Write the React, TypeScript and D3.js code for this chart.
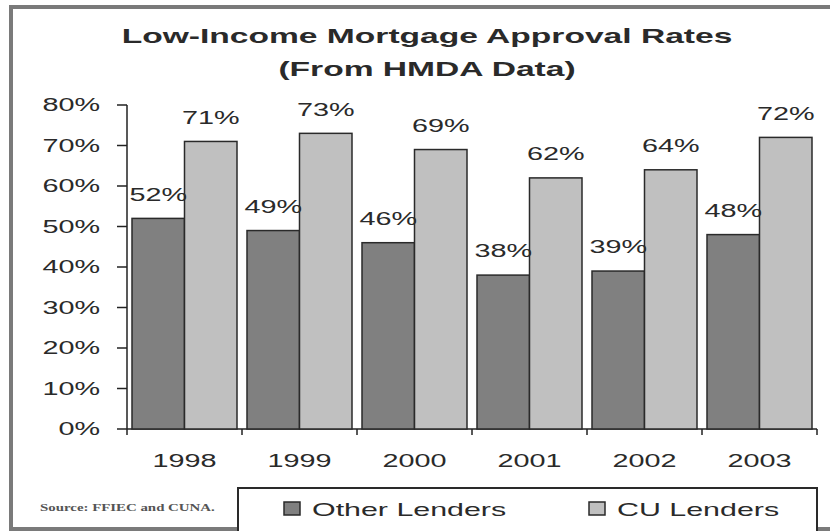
import { useEffect, useRef } from 'react';
import * as d3 from 'd3';

const years = ['1998', '1999', '2000', '2001', '2002', '2003'];
const otherLenders = [52, 49, 46, 38, 39, 48];
const cuLenders = [71, 73, 69, 62, 64, 72];
const seriesNames = ['Other Lenders', 'CU Lenders'];
const seriesColors = ['#808080', '#c0c0c0'];
const yTicks = [0, 10, 20, 30, 40, 50, 60, 70, 80];
const titleLines = ['Low-Income Mortgage Approval Rates', '(From HMDA Data)'];
const sourceNote = 'Source: FFIEC and CUNA.';

const WIDTH = 830;
const HEIGHT = 531;
const SX = 1.6; // the original image is stretched sideways
const FONT = 'Arial, "Liberation Sans", sans-serif';

export default function App() {
  const svgRef = useRef<SVGSVGElement>(null);

  useEffect(() => {
    if (!svgRef.current) return;
    const svg = d3.select(svgRef.current);
    svg.selectAll('*').remove();

    const margin = { top: 105, right: 13, bottom: 102, left: 127 };
    const innerH = HEIGHT - margin.top - margin.bottom;

    // stretched text helper
    const addText = (
      parent: d3.Selection<any, any, any, any>,
      x: number,
      y: number,
      str: string,
      size: number,
      anchor = 'middle',
      weight = 'normal'
    ) =>
      parent.append('text')
        .attr('transform', `translate(${x},${y}) scale(${SX},1)`)
        .attr('text-anchor', anchor)
        .attr('dominant-baseline', 'central')
        .style('font-family', FONT)
        .style('font-size', `${size}px`)
        .style('font-weight', weight)
        .style('fill', '#2a2a2a')
        .text(str);

    // outer frame (right side is cut off in the original)
    svg.append('path')
      .attr('d', `M${WIDTH + 20},7 H11 V529 H${WIDTH + 20}`)
      .style('fill', 'none')
      .style('stroke', '#7a7a7a')
      .style('stroke-width', 4);

    // title
    titleLines.forEach((t, i) => addText(svg, 427, 36 + i * 33, t, 21, 'middle', 'bold'));

    const x0 = d3.scaleBand<string>()
      .domain(years)
      .range([margin.left, WIDTH - margin.right])
      .paddingInner(0.087)
      .paddingOuter(0.0435);

    const x1 = d3.scaleBand<number>()
      .domain([0, 1])
      .range([0, x0.bandwidth()]);

    const y = d3.scaleLinear()
      .domain([0, 80])
      .range([margin.top + innerH, margin.top]);

    // y axis
    const yAxis = svg.append('g');
    yAxis.append('line')
      .attr('x1', margin.left).attr('x2', margin.left)
      .attr('y1', y(80)).attr('y2', y(0))
      .style('stroke', '#222').style('stroke-width', 1.5);
    yTicks.forEach(v => {
      yAxis.append('line')
        .attr('x1', margin.left - 10).attr('x2', margin.left)
        .attr('y1', y(v)).attr('y2', y(v))
        .style('stroke', '#222').style('stroke-width', 1.5);
      addText(yAxis, margin.left - 27, y(v), `${v}%`, 18, 'end');
    });

    // x axis
    const step = x0.step();
    const gap = step * x0.paddingInner();
    svg.append('line')
      .attr('x1', margin.left).attr('x2', WIDTH - margin.right)
      .attr('y1', y(0)).attr('y2', y(0))
      .style('stroke', '#222').style('stroke-width', 1.5);
    years.forEach((yr, i) => {
      const bx = x0(yr)! - gap / 2;
      svg.append('line')
        .attr('x1', bx).attr('x2', bx)
        .attr('y1', y(0)).attr('y2', y(0) + 6)
        .style('stroke', '#222').style('stroke-width', 1.5);
      if (i === years.length - 1) {
        svg.append('line')
          .attr('x1', bx + step).attr('x2', bx + step)
          .attr('y1', y(0)).attr('y2', y(0) + 6)
          .style('stroke', '#222').style('stroke-width', 1.5);
      }
      addText(svg, x0(yr)! + x0.bandwidth() / 2, 461, yr, 18);
    });

    // bars
    const data = years.map((yr, i) => ({ yr, values: [otherLenders[i], cuLenders[i]] }));
    data.forEach(d => {
      d.values.forEach((v, s) => {
        const bx = x0(d.yr)! + x1(s)!;
        svg.append('rect')
          .attr('x', bx)
          .attr('y', y(v))
          .attr('width', x1.bandwidth())
          .attr('height', y(0) - y(v))
          .style('fill', seriesColors[s])
          .style('stroke', '#2a2a2a')
          .style('stroke-width', 1.5);
      });
    });
    // value labels drawn after bars so they sit on top
    data.forEach(d => {
      d.values.forEach((v, s) => {
        const cx = x0(d.yr)! + x1(s)! + x1.bandwidth() / 2;
        addText(svg, cx, y(v) - 24, `${v}%`, 18);
      });
    });

    // source note
    svg.append('text')
      .attr('transform', `translate(40,508) scale(${SX},1)`)
      .attr('dominant-baseline', 'central')
      .style('font-family', '"Liberation Serif", serif')
      .style('font-size', '9.3px')
      .style('font-weight', 'bold')
      .style('fill', '#555')
      .text(sourceNote);

    // legend
    const legend = svg.append('g');
    legend.append('rect')
      .attr('x', 238).attr('y', 488)
      .attr('width', 579).attr('height', 60)
      .style('fill', '#fff')
      .style('stroke', '#2a2a2a')
      .style('stroke-width', 2);
    const legendX = [284, 589];
    seriesNames.forEach((name, s) => {
      legend.append('rect')
        .attr('x', legendX[s]).attr('y', 502)
        .attr('width', 16).attr('height', 13)
        .style('fill', seriesColors[s])
        .style('stroke', '#2a2a2a')
        .style('stroke-width', 1.5);
      addText(legend, legendX[s] + 28, 509, name, 19, 'start');
    });
  }, []);

  return (
    <>
      <style>{'html, body { margin: 0; overflow: hidden; background: #fff; }'}</style>
      <svg
        ref={svgRef}
        width={WIDTH}
        height={HEIGHT}
        style={{ position: 'absolute', left: 0, top: 0, display: 'block', background: '#fff' }}
      />
    </>
  );
}
